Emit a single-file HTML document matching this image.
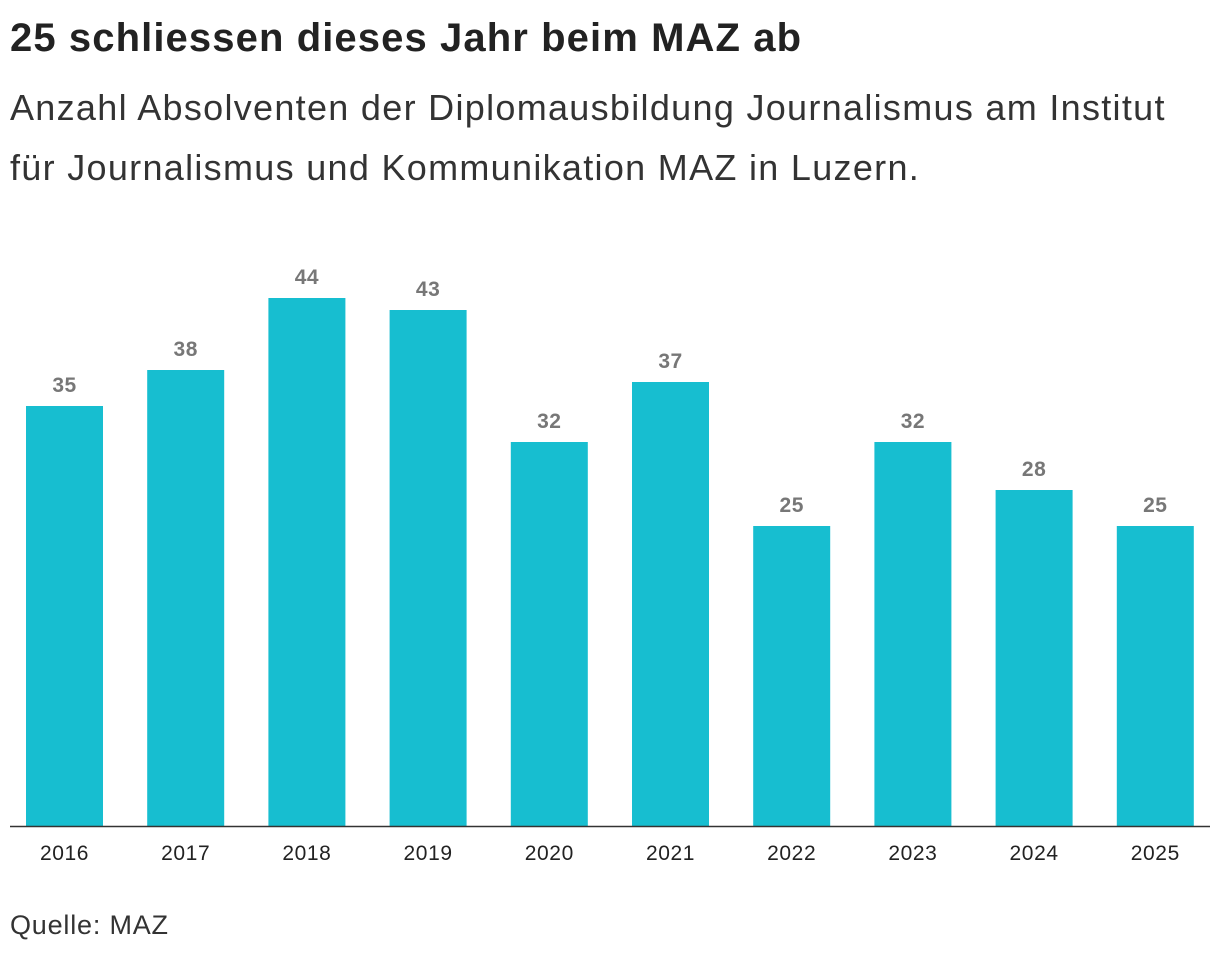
<!DOCTYPE html>
<html><head><meta charset="utf-8"><style>
html,body{margin:0;padding:0;background:#fff;}
body{width:1220px;height:958px;position:relative;font-family:"Liberation Sans",sans-serif;color:#222;overflow:hidden;}
#title{position:absolute;left:10px;top:16px;font-size:40px;letter-spacing:1.1px;font-weight:bold;margin:0;white-space:nowrap;}
#sub{position:absolute;left:10px;top:78px;font-size:36px;letter-spacing:1.3px;line-height:60px;margin:0;color:#333;width:1210px;white-space:nowrap;}
#src{position:absolute;left:10px;top:910px;font-size:27px;letter-spacing:0.8px;color:#333;}
svg{position:absolute;left:0;top:0;}
</style></head><body>
<h1 id="title">25 schliessen dieses Jahr beim MAZ ab</h1>
<p id="sub">Anzahl Absolventen der Diplomausbildung Journalismus am Institut<br>für Journalismus und Kommunikation MAZ in Luzern.</p>
<svg id="chart" width="1220" height="958"></svg>
<div id="src">Quelle: MAZ</div>
<script>
const years = ["2016","2017","2018","2019","2020","2021","2022","2023","2024","2025"];
const values = [35,38,44,43,32,37,25,32,28,25];
const NS="http://www.w3.org/2000/svg";
const svg=document.getElementById('chart');
const baseY=826, pxPerUnit=12, x0=64.5, step=121.2, bw=77;
function xScale(i){return x0+i*step;}
function yScale(v){return baseY-v*pxPerUnit;}
function mk(tag,attrs){const e=document.createElementNS(NS,tag);for(const k in attrs)e.setAttribute(k,attrs[k]);svg.appendChild(e);return e;}
years.forEach((yr,i)=>{
  const cx=xScale(i), top=yScale(values[i]);
  const r=mk('rect',{x:cx-bw/2,y:top,width:bw,height:baseY-top,fill:'#17bed0'});
  
  
  const t=mk('text',{x:cx,y:top-14,'text-anchor':'middle','font-size':'21','font-weight':'bold',fill:'#777','letter-spacing':'0.5','font-family':'Liberation Sans, sans-serif'});
  t.textContent=values[i];
  
  
  const l=mk('text',{x:cx,y:860,'text-anchor':'middle','font-size':'21',fill:'#222','letter-spacing':'0.6','font-family':'Liberation Sans, sans-serif'});
  l.textContent=yr;
  
  
});
const ax=mk('line',{x1:10,x2:1210,y1:baseY+0.5,y2:baseY+0.5,stroke:'#333','stroke-width':'1.5'});


</script>
</body></html>
